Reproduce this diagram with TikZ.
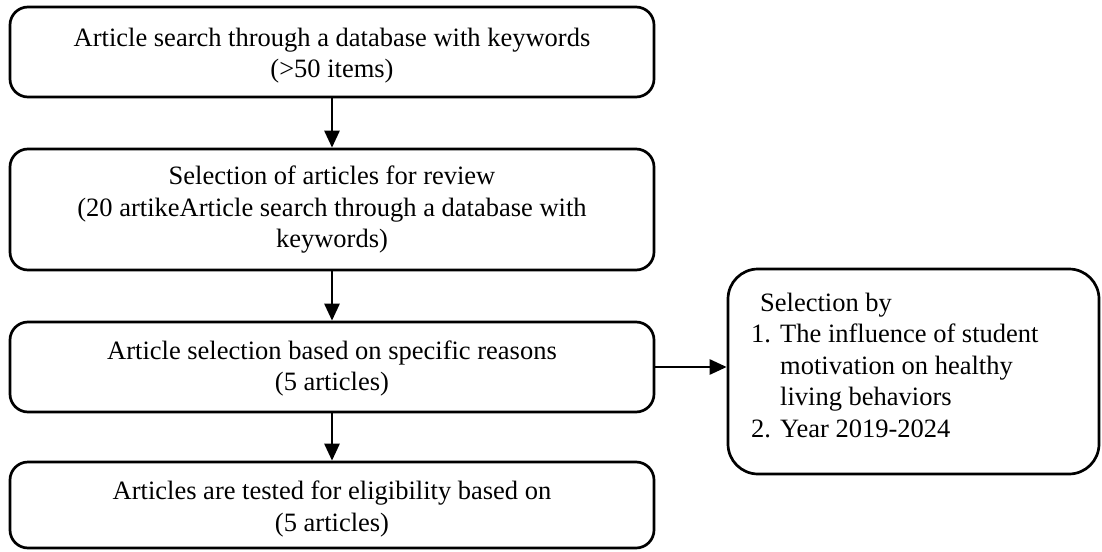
\documentclass[tikz,border=0pt]{standalone}
\usepackage{fontspec}
\setmainfont{Liberation Serif}
\usetikzlibrary{arrows.meta}
\begin{document}
\begin{tikzpicture}[x=1pt,y=-1pt,
  flowbox/.style={draw, line width=2.7pt, rounded corners=18pt, inner sep=0pt, minimum width=644pt},
  flowtext/.style={inner sep=0pt, align=center, font=\fontsize{26.5}{31.5}\selectfont},
  sidebox/.style={draw, line width=2.7pt, rounded corners=30pt, inner sep=0pt},
  sidetext/.style={anchor=base west, inner sep=0pt, font=\fontsize{26.5}{31.5}\selectfont},
  conn/.style={line width=2.7pt, -{Triangle[length=17pt,width=15pt]}}]
\useasboundingbox (0,0) rectangle (1102,551);
\node[flowbox, minimum height=90pt] (b1) at (332,52) {};
\node[flowtext] (l1) at (332,55.5)
  {Article search through a database with keywords\\(>50 items)};
\node[flowbox, minimum height=121pt] (b2) at (332,209.5) {};
\node[flowtext] (l2) at (332,210)
  {Selection of articles for review\\(20 artikeArticle search through a database with\\keywords)};
\node[flowbox, minimum height=90pt] (b3) at (332,367) {};
\node[flowtext] (l3) at (332,368.5)
  {Article selection based on specific reasons\\(5 articles)};
\node[flowbox, minimum height=86pt] (b4) at (332,505) {};
\node[flowtext] (l4) at (332,509)
  {Articles are tested for eligibility based on\\(5 articles)};
\node[sidebox, minimum width=371pt, minimum height=205pt] (rb) at (913.5,371.5) {};
\node[sidetext] (t1) at (760,311) {Selection by};
\node[sidetext] (t2) at (751,342.5) {\makebox[29pt][l]{1.}The influence of student};
\node[sidetext] (t3) at (780,374) {motivation on healthy};
\node[sidetext] (t4) at (780,405.5) {living behaviors};
\node[sidetext] (t5) at (751,437) {\makebox[29pt][l]{2.}Year 2019-2024};
\draw[conn] (b1) -- (b2);
\draw[conn] (b2) -- (b3);
\draw[conn] (b3) -- (b4);
\draw[conn] (b3.east) -- (b3.east -| rb.west);
\end{tikzpicture}
\end{document}
